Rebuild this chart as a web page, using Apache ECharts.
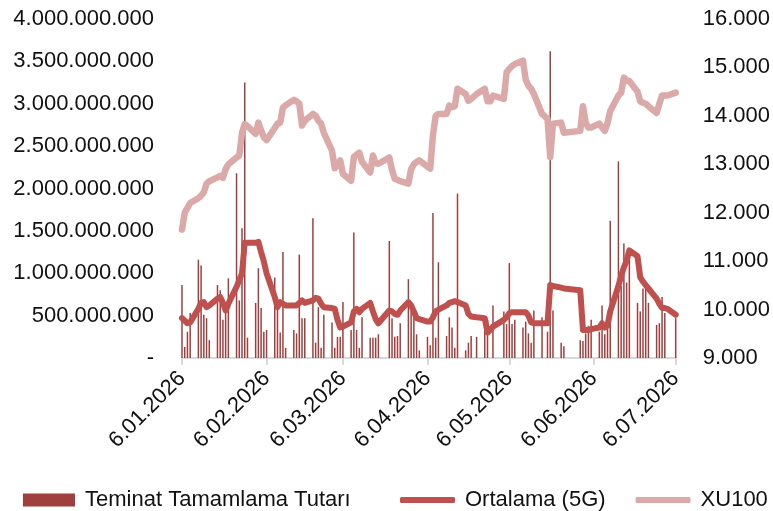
<!DOCTYPE html>
<html>
<head>
<meta charset="utf-8">
<script src="https://cdn.jsdelivr.net/npm/echarts@6/dist/echarts.min.js"></script>
<style>
  html, body { margin: 0; padding: 0; background: #fff; }
  #main { width: 773px; height: 511px; }
</style>
</head>
<body>
<div id="main"></div>
<script>
// trading days 2026 (MM-DD)
var dates = [
  '01-06','01-07','01-08','01-09','01-12','01-13','01-14','01-15','01-16','01-19','01-20','01-21','01-22','01-23','01-26','01-27','01-28','01-29','01-30',
  '02-02','02-03','02-04','02-05','02-06','02-09','02-10','02-11','02-12','02-13','02-16','02-17','02-18','02-19','02-20','02-23','02-24','02-25','02-26','02-27',
  '03-02','03-03','03-04','03-05','03-06','03-09','03-10','03-11','03-12','03-13','03-16','03-17','03-18','03-19','03-23','03-24','03-25','03-26','03-27','03-30','03-31',
  '04-01','04-02','04-03','04-06','04-07','04-08','04-09','04-10','04-13','04-14','04-15','04-16','04-17','04-20','04-21','04-22','04-24','04-27','04-28','04-29','04-30',
  '05-04','05-05','05-06','05-07','05-08','05-11','05-12','05-13','05-14','05-15','05-18','05-20','05-21','05-22','05-25','05-26',
  '06-01','06-02','06-03','06-04','06-05','06-08','06-09','06-10','06-11','06-12','06-15','06-16','06-17','06-18','06-19','06-22','06-23','06-24','06-25','06-26','06-29','06-30',
  '07-01','07-02','07-03','07-06'
];

// Teminat Tamamlama Tutarı (milyon TL)
var tutar = [
  860,130,310,530,1160,1090,510,470,210,860,800,450,560,940,2180,680,1530,3250,240,
  650,1060,590,310,330,950,680,300,1250,120,330,290,1220,470,470,1650,180,600,120,510,
  420,120,250,250,660,330,1480,330,120,480,240,240,240,280,1380,470,250,260,410,930,560,
  510,280,90,250,150,1710,240,1130,260,480,360,120,1940,90,180,260,250,480,450,null,620,
  550,400,1120,400,450,360,430,290,180,560,480,310,3620,560,180,140,
  210,200,290,380,450,310,620,280,370,1620,2320,850,1350,890,1200,650,550,820,820,650,390,410,
  720,530,null,470
];

// Ortalama (5G) (milyon TL)
var ortalama = [
  470,440,410,420,580,650,660,600,620,700,720,650,560,640,840,920,1000,1360,1360,
  1360,1370,1250,1140,1000,720,600,660,640,620,620,620,650,680,650,680,710,700,640,600,
  590,580,450,360,370,420,550,580,540,580,650,550,460,410,560,550,520,510,560,660,620,
  550,470,460,430,430,480,550,570,620,650,660,670,660,620,520,490,480,470,300,330,370,
  450,480,530,540,540,540,540,500,420,410,410,410,860,850,830,820,
  800,330,330,330,340,360,410,360,380,550,850,970,1070,1150,1270,1200,950,900,860,820,700,640,
  590,590,580,510
];

// XU100
var xu100 = [
  11650,12000,12100,12200,12300,12350,12420,12600,12650,12730,12760,12720,12900,13000,13140,13180,13650,13830,13790,
  13630,13860,13700,13560,13500,13750,13840,13860,14170,14220,14330,14300,14250,13800,13900,14040,14000,13900,13840,13650,
  13280,12920,12980,13080,12800,12660,13150,13200,13240,13050,12830,13180,13020,13010,13140,12880,12700,12680,12650,12600,12900,
  13000,13050,13080,12950,12910,13600,14000,14040,14040,14210,14180,14200,14560,14450,14310,14350,14450,14560,14300,14300,14420,
  14350,14900,14970,15030,15070,15140,14750,14620,14560,14450,14040,13940,13150,13840,13860,13650,
  13690,14200,13850,13760,13760,13840,13760,13690,13850,14100,14420,14480,14790,14730,14720,14500,14300,14270,14250,14200,14060,14250,
  14420,14420,14420,14480
];

var tickDates = ['01-06','02-06','03-06','04-06','05-06','06-06','07-06'];

function ts(md) {
  var p = md.split('-');
  return new Date(2026, +p[0] - 1, +p[1]).getTime();
}
function dots(n) {
  return String(n).replace(/\B(?=(\d{3})+(?!\d))/g, '.');
}
function pad(n) { return n < 10 ? '0' + n : '' + n; }

var chartDom = document.getElementById('main');
var myChart = echarts.init(chartDom);
var font = 'Liberation Sans';
var tickVals = tickDates.map(ts);
var legendText = { fontFamily: font, fontSize: 22, color: '#111', padding: [0, 0, 0, 5] };

var option = {
  animation: false,
  textStyle: { fontFamily: font },
  grid: { left: 182, right: 97, top: 19, bottom: 153 },
  legend: [
    {
      top: 484,
      left: 18,
      itemWidth: 52,
      itemHeight: 13,
      textStyle: legendText,
      data: [{ name: 'Teminat Tamamlama Tutarı', icon: 'rect' }]
    },
    {
      top: 484,
      left: 395,
      width: 378,
      itemWidth: 55,
      itemHeight: 6,
      itemGap: 30,
      icon: 'roundRect',
      textStyle: legendText,
      data: ['Ortalama (5G)', 'XU100']
    }
  ],
  xAxis: {
    type: 'value',
    min: ts('01-06'),
    max: ts('07-06'),
    axisLine: { lineStyle: { color: '#d9d9d9', width: 2 } },
    axisTick: { show: true, customValues: tickVals, length: 7, lineStyle: { color: '#d9d9d9', width: 2 } },
    splitLine: { show: false },
    axisLabel: {
      customValues: tickVals,
      rotate: 45,
      margin: 17,
      fontSize: 22,
      color: '#111',
      fontFamily: font,
      formatter: function (v) {
        var d = new Date(v);
        return d.getDate() + '.' + pad(d.getMonth() + 1) + '.' + d.getFullYear();
      }
    }
  },
  yAxis: [
    {
      type: 'value',
      min: 0,
      max: 4000,
      interval: 500,
      splitLine: { show: false },
      axisLine: { show: false },
      axisTick: { show: false },
      axisLabel: {
        margin: 28,
        fontSize: 22,
        color: '#111',
        formatter: function (v) { return v === 0 ? '-' : dots(v * 1000000); }
      }
    },
    {
      type: 'value',
      min: 9000,
      max: 16000,
      interval: 1000,
      splitLine: { show: false },
      axisLine: { show: false },
      axisTick: { show: false },
      axisLabel: {
        margin: 27,
        fontSize: 22,
        color: '#111',
        formatter: function (v) { return dots(v); }
      }
    }
  ],
  series: [
    {
      name: 'Teminat Tamamlama Tutarı',
      type: 'bar',
      barWidth: 1.5,
      itemStyle: { color: '#A0403E' },
      data: dates.map(function (d, i) { return [ts(d), tutar[i]]; })
    },
    {
      name: 'Ortalama (5G)',
      type: 'line',
      symbol: 'none',
      connectNulls: true,
      lineStyle: { color: '#C0504D', width: 6, join: 'round', cap: 'round' },
      itemStyle: { color: '#C0504D' },
      data: dates.map(function (d, i) { return [ts(d), ortalama[i]]; })
    },
    {
      name: 'XU100',
      type: 'line',
      yAxisIndex: 1,
      symbol: 'none',
      connectNulls: true,
      lineStyle: { color: '#DBA9A8', width: 6.5, join: 'round', cap: 'round' },
      itemStyle: { color: '#DBA9A8' },
      data: dates.map(function (d, i) { return [ts(d), xu100[i]]; })
    }
  ]
};

option && myChart.setOption(option);
</script>
</body>
</html>
